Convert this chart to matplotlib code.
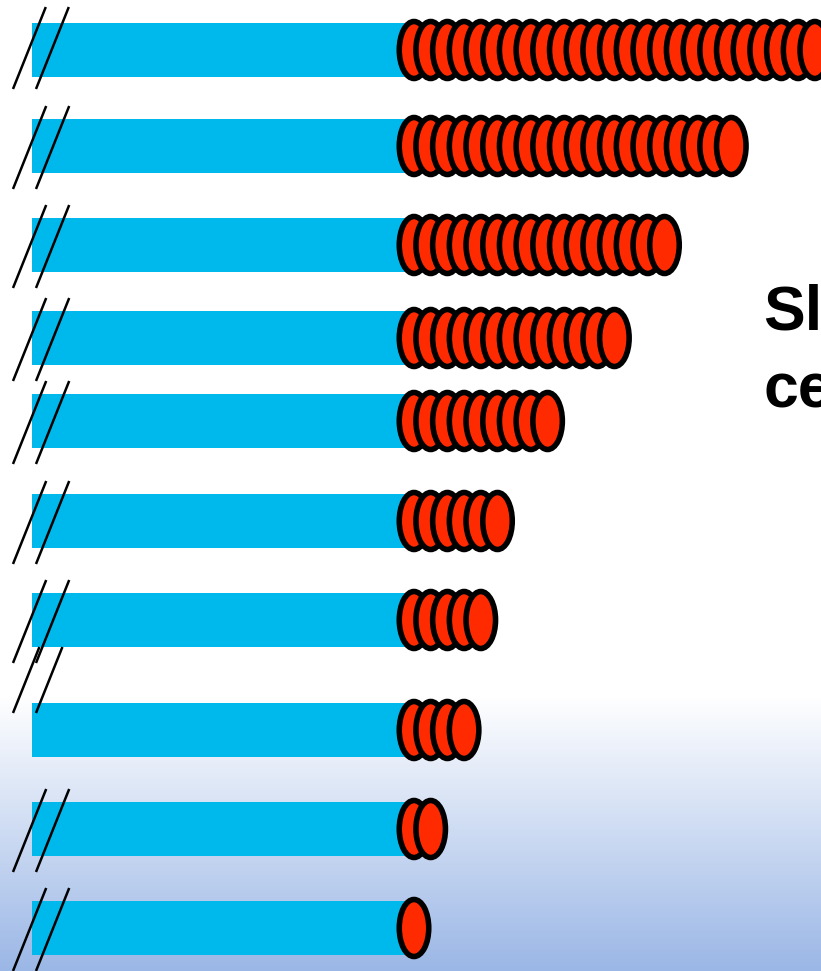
import numpy as np
import matplotlib
matplotlib.use("Agg")
import matplotlib.pyplot as plt
from matplotlib.patches import Ellipse, Rectangle
from matplotlib.colors import LinearSegmentedColormap

# Number of stacked discs on each row (top to bottom)
disc_counts = [25, 20, 16, 13, 9, 6, 5, 4, 2, 1]
caption_lines = ["Sl", "ce"]

# Layout (pixel-like vertical units, top = 0)
W, H = 821, 971
row_y = [50, 146, 245, 338, 421, 521, 620, 730, 829, 928]
step_px = 16.7          # horizontal spacing of discs
first_px = 414          # centre of the first disc
bar_left_px, bar_right_px = 32, 405
bar_h = 54

BAR_COLOR = "#00B9EC"
DISC_COLOR = "#FF2A00"

def ux(px):
    """pixel column -> disc-index units"""
    return (px - first_px) / step_px

fig = plt.figure(figsize=(W / 100, H / 100), dpi=100)
ax = fig.add_axes([0, 0, 1, 1])
ax.set_xlim(ux(0), ux(W))
ax.set_ylim(H, 0)
ax.axis("off")

# background: white, fading to light blue near the bottom
grad = np.ones((H, 1))
start = 695
grad[start:, 0] = 1 - np.linspace(0, 1, H - start)
cmap = LinearSegmentedColormap.from_list("bg", ["#9BB7E6", "#FFFFFF"])
ax.imshow(grad, cmap=cmap, aspect="auto", extent=(ux(0), ux(W), H, 0),
          vmin=0, vmax=1, zorder=0)

disc_w = 29.5 / step_px
disc_h = 57

for y, n in zip(row_y, disc_counts):
    ax.add_patch(Rectangle((ux(bar_left_px), y - bar_h / 2),
                           ux(bar_right_px) - ux(bar_left_px), bar_h,
                           facecolor=BAR_COLOR, edgecolor="none", zorder=2))
    for i in range(n):
        ax.add_patch(Ellipse((i, y), disc_w, disc_h, facecolor=DISC_COLOR,
                             edgecolor="black", linewidth=4.0, zorder=3 + i * 0.01))

# axis-break marks at the left of each bar
for k, y in enumerate(row_y):
    if k == 7:
        y_bot, y_top = 713, 647
    elif k == 0:
        y_bot, y_top = y + 39, y - 43
    else:
        y_bot, y_top = y + 43, y - 40
    dx = (y_bot - y_top) * 0.40
    for xb in (13, 36):
        ax.plot([ux(xb), ux(xb + dx)], [y_bot, y_top], color="black",
                lw=1.8, solid_capstyle="butt", zorder=5)

# caption on the right (runs off the edge)
ax.text(ux(763), 330, caption_lines[0], fontsize=45, fontweight="bold",
        family="Liberation Sans", color="black", va="baseline", ha="left", zorder=6)
ax.text(ux(763), 408, caption_lines[1], fontsize=45, fontweight="bold",
        family="Liberation Sans", color="black", va="baseline", ha="left", zorder=6)

fig.savefig("out.png", dpi=100)
